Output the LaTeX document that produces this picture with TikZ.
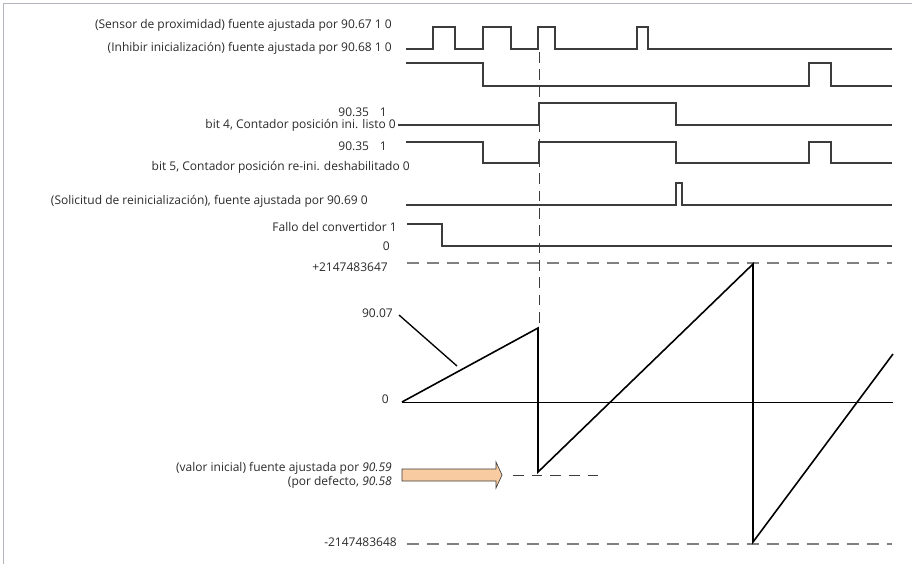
\documentclass[tikz,border=0pt]{standalone}
\usepackage{fontspec}
\setmainfont{Open Sans}
\usetikzlibrary{arrows.meta, calc}

\definecolor{senalgris}{HTML}{3C3C3C}
\definecolor{textogris}{HTML}{2A2A2A}
\definecolor{marcogris}{HTML}{B4B4BC}
\definecolor{flecha}{HTML}{F9CBA0}

\begin{document}
\begin{tikzpicture}[x=0.75pt, y=-0.75pt,
  senal/.style={line width=1.5pt, draw=senalgris},
  diente/.style={line width=1.2pt, draw=black},
  guia/.style={draw=gray, line width=0.8pt, dash pattern=on 9pt off 6pt},
  etiq/.style={anchor=east, inner sep=0pt, text=textogris, font=\fontsize{9}{10}\selectfont}]
  \useasboundingbox (0,0) rectangle (912,564);
  % marco
  \draw[marcogris, line width=1.1pt] (3.5,564) -- (3.5,3.5) -- (912,3.5);
  % etiquetas
  \node[etiq] (sensor) at (392,25) {(Sensor de proximidad) fuente ajustada por 90.67 1 0};
  \node[etiq] (inhibir) at (392,48) {(Inhibir inicialización) fuente ajustada por 90.68 1 0};
  \node[etiq] (b4uno) at (387,112) {90.35\hspace{0.9em}1};
  \node[etiq] (b4cero) at (396,125) {bit 4, Contador posición ini. listo 0};
  \node[etiq] (b5uno) at (387,146) {90.35\hspace{0.9em}1};
  \node[etiq] (b5cero) at (410,167) {bit 5, Contador posición re-ini. deshabilitado 0};
  \node[etiq] (solic) at (368,201) {(Solicitud de reinicialización), fuente ajustada por 90.69 0};
  \node[etiq] (fallo) at (397,227) {Fallo del convertidor 1};
  \node[etiq] (fallocero) at (390,246) {0};
  \node[etiq] (maximo) at (388,267) {+2147483647};
  \node[etiq] (pos) at (393,313) {90.07};
  \node[etiq] (cero) at (389,399) {0};
  \node[etiq] (inicial) at (392,468) {(valor inicial) fuente ajustada por \textit{90.59}};
  \node[etiq] (defecto) at (392,482) {(por defecto, \textit{90.58}};
  \node[etiq] (minimo) at (397,542) {-2147483648};
  % senales digitales
  \draw[senal] (406,49) -- (433,49) |- (455,27) |- (483,49) |- (511,27) |- (538,49)
    |- (555,27) |- (637,49) |- (648,27) |- (892,49);
  \draw[senal] (406,63) -| (483,86) -| (809,63) -| (831,86) -- (892,86);
  \draw[senal] (398,125) -| (539,103) -| (676,125) -- (892,125);
  \draw[senal] (406,142) -| (483,163) -| (539,142) -| (676,163) -| (809,142) -| (831,163) -- (892,163);
  \draw[senal] (406,205) -| (676,183) -| (682,205) -- (892,205);
  \draw[senal] (407,224) -| (442,246) -- (892,246);
  % limites y referencia
  \draw[guia] (407,263) -- (892,263);
  \draw[guia] (407,544) -- (892,544);
  \draw[draw=senalgris, line width=0.7pt, dash pattern=on 8pt off 5pt] (539,52) -- (539,328);
  \draw[draw=senalgris, line width=0.7pt, dash pattern=on 8pt off 6pt] (513,475) -- (600,475);
  % diente de sierra
  \draw[line width=0.6pt] (402,402) -- (893,402);
  \draw[diente, line join=miter] (402,402) -- (538,328) -- (538,472) -- (753,264) -- (753,542) -- (893,354);
  \draw[line width=1pt] (pos.east) ++(6,2) -- (457,366);
  % flecha del valor inicial
  \draw[fill=flecha, draw=senalgris, line width=0.5pt] (402,469) -- (496,469) -- (496,462) -- (502,475)
    -- (496,488) -- (496,481) -- (402,481) -- cycle;
\end{tikzpicture}
\end{document}
